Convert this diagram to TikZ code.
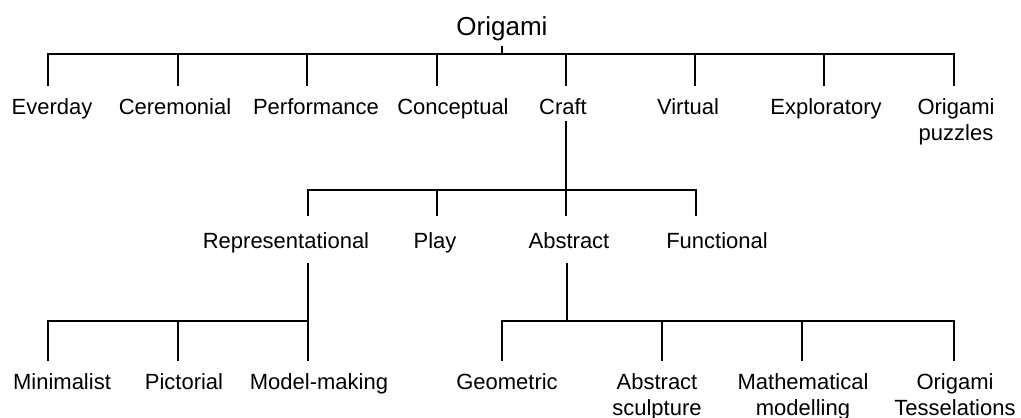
\documentclass[tikz,border=0pt]{standalone}
\usepackage{fontspec}
\setmainfont{Liberation Sans}
\begin{document}
\begin{tikzpicture}[x=1pt,y=-1pt,
  link/.style={line width=2pt, line cap=rect, black},
  lblbase/.style={font=\fontsize{22}{26}\selectfont, inner sep=0pt, anchor=base, align=center},
  lbl/.style={lblbase, text height=16pt, text depth=5pt},
  lbltwo/.style={lblbase},
  rootlbl/.style={font=\fontsize{26}{30}\selectfont, inner sep=0pt, anchor=base,
    text height=19pt, text depth=6pt}]
\useasboundingbox (0,0) rectangle (1021,418);

% ---------- nodes ----------
\node[rootlbl] (root) at (502,35) {Origami};

\node[lbl] (everday)     at (52,114)  {Everday};
\node[lbl] (ceremonial)  at (175,114) {Ceremonial};
\node[lbl] (performance) at (316,114) {Performance};
\node[lbl] (conceptual)  at (453,114) {Conceptual};
\node[lbl] (craft)       at (563,114) {Craft};
\node[lbl] (virtual)     at (688,114) {Virtual};
\node[lbl] (exploratory) at (826,114) {Exploratory};
\node[lbltwo] (puzzles)  at (956,140) {Origami\\puzzles};

\node[lbl] (repr)       at (286,248) {Representational};
\node[lbl] (play)       at (435,248) {Play};
\node[lbl] (abstract)   at (569,248) {Abstract};
\node[lbl] (functional) at (717,248) {Functional};

\node[lbl] (minimalist) at (62,389)  {Minimalist};
\node[lbl] (pictorial)  at (184,389) {Pictorial};
\node[lbl] (model)      at (319,389) {Model-making};
\node[lbl] (geometric)  at (507,389) {Geometric};
\node[lbltwo] (sculpture)  at (657,415) {Abstract\\sculpture};
\node[lbltwo] (math)       at (803,415) {Mathematical\\modelling};
\node[lbltwo] (tess)       at (955,415) {Origami\\Tesselations};

% ---------- level 1 connectors ----------
\coordinate (r0) at (502,54);
\coordinate (t1) at (48,54);  \coordinate (t2) at (178,54);
\coordinate (t3) at (307,54); \coordinate (t4) at (437,54);
\coordinate (t5) at (566,54); \coordinate (t6) at (695,54);
\coordinate (t7) at (824,54); \coordinate (t8) at (954,54);
\draw[link, shorten <=6pt] (root.south) -- (r0);
\draw[link] (t1) -- (t8);
\draw[link, shorten >=13pt] (t1) -- (t1 |- everday.north);
\draw[link, shorten >=13pt] (t2) -- (t2 |- ceremonial.north);
\draw[link, shorten >=13pt] (t3) -- (t3 |- performance.north);
\draw[link, shorten >=13pt] (t4) -- (t4 |- conceptual.north);
\draw[link, shorten >=13pt] (t5) -- (t5 |- craft.north);
\draw[link, shorten >=13pt] (t6) -- (t6 |- virtual.north);
\draw[link, shorten >=13pt] (t7) -- (t7 |- exploratory.north);
\draw[link, shorten >=13pt] (t8) -- (t8 |- puzzles.north);

% ---------- level 2 connectors ----------
\coordinate (c0) at (566,190);
\coordinate (u1) at (308,190); \coordinate (u2) at (437,190);
\coordinate (u3) at (566,190); \coordinate (u4) at (696,190);
\draw[link, shorten <=3pt] (craft.south -| c0) -- (c0);
\draw[link] (u1) -- (u4);
\draw[link, shorten >=17pt] (u1) -- (u1 |- repr.north);
\draw[link, shorten >=17pt] (u2) -- (u2 |- play.north);
\draw[link, shorten >=17pt] (u3) -- (u3 |- abstract.north);
\draw[link, shorten >=17pt] (u4) -- (u4 |- functional.north);

% ---------- level 3 connectors (representational) ----------
\coordinate (d0) at (308,321);
\coordinate (v1) at (48,321); \coordinate (v2) at (178,321); \coordinate (v3) at (308,321);
\draw[link, shorten <=11pt] (repr.south -| d0) -- (d0);
\draw[link] (v1) -- (v3);
\draw[link, shorten >=13pt] (v1) -- (v1 |- minimalist.north);
\draw[link, shorten >=13pt] (v2) -- (v2 |- pictorial.north);
\draw[link, shorten >=13pt] (v3) -- (v3 |- model.north);

% ---------- level 3 connectors (abstract) ----------
\coordinate (e0) at (567,321);
\coordinate (w1) at (502,321); \coordinate (w2) at (662,321);
\coordinate (w3) at (802,321); \coordinate (w4) at (954,321);
\draw[link, shorten <=11pt] (abstract.south -| e0) -- (e0);
\draw[link] (w1) -- (w4);
\draw[link, shorten >=13pt] (w1) -- (w1 |- geometric.north);
\draw[link, shorten >=13pt] (w2) -- (w2 |- sculpture.north);
\draw[link, shorten >=13pt] (w3) -- (w3 |- math.north);
\draw[link, shorten >=13pt] (w4) -- (w4 |- tess.north);
\end{tikzpicture}
\end{document}
